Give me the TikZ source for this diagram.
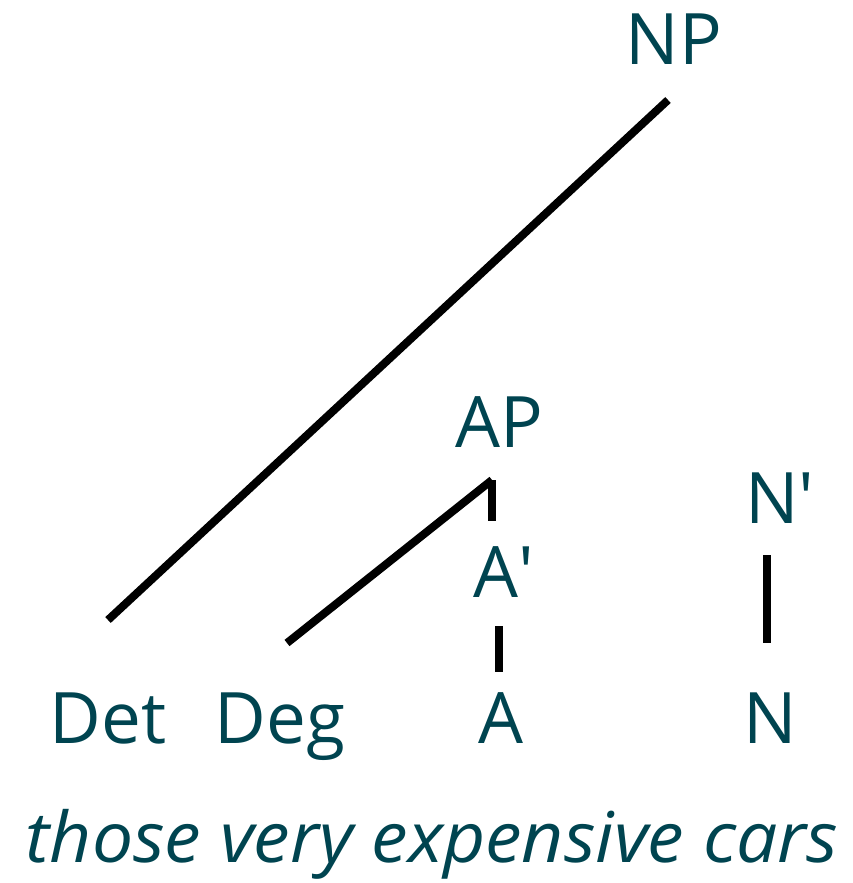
\documentclass[tikz,border=0pt]{standalone}
\usepackage{fontspec}
\setmainfont{Open Sans}
\definecolor{labelteal}{RGB}{0,68,80}
\begin{document}
\begin{tikzpicture}[x=1pt,y=-1pt,
  lab/.style={inner sep=0pt, anchor=base, text=labelteal, font=\fontsize{71}{80}\selectfont},
  wordline/.style={inner sep=0pt, anchor=base, text=labelteal, xscale=1.045, font=\fontsize{70}{80}\selectfont\itshape},
  branch/.style={draw=black, line width=8pt, line cap=butt}]
\useasboundingbox (0,0) rectangle (852,883);
\node[lab] (NP) at (674,64) {NP};
\node[lab] (AP) at (499,447) {AP};
\node[lab] (Abar) at (504,597) {A\textquotesingle};
\node[lab] (Nbar) at (780,523) {N\textquotesingle};
\node[lab] (Det) at (108,743) {Det};
\node[lab] (Deg) at (280,743) {Deg};
\node[lab] (A) at (501,743) {A};
\node[lab] (N) at (770,743) {N};
\node[wordline] (words) at (432,862) {those very expensive cars};
\draw[branch] ([shift={(-6,36)}]NP.base) -- ([shift={(0,-123)}]Det.base);
\draw[branch] ([shift={(7,-100)}]Deg.base) -- ([shift={(-7,33)}]AP.base);
\draw[branch] ([shift={(-7,33)}]AP.base) -- ([shift={(-7,74)}]AP.base);
\draw[branch] ([shift={(-5,29)}]Abar.base) -- ([shift={(-2,-71)}]A.base);
\draw[branch] ([shift={(-13,32)}]Nbar.base) -- ([shift={(-3,-100)}]N.base);
\end{tikzpicture}
\end{document}
